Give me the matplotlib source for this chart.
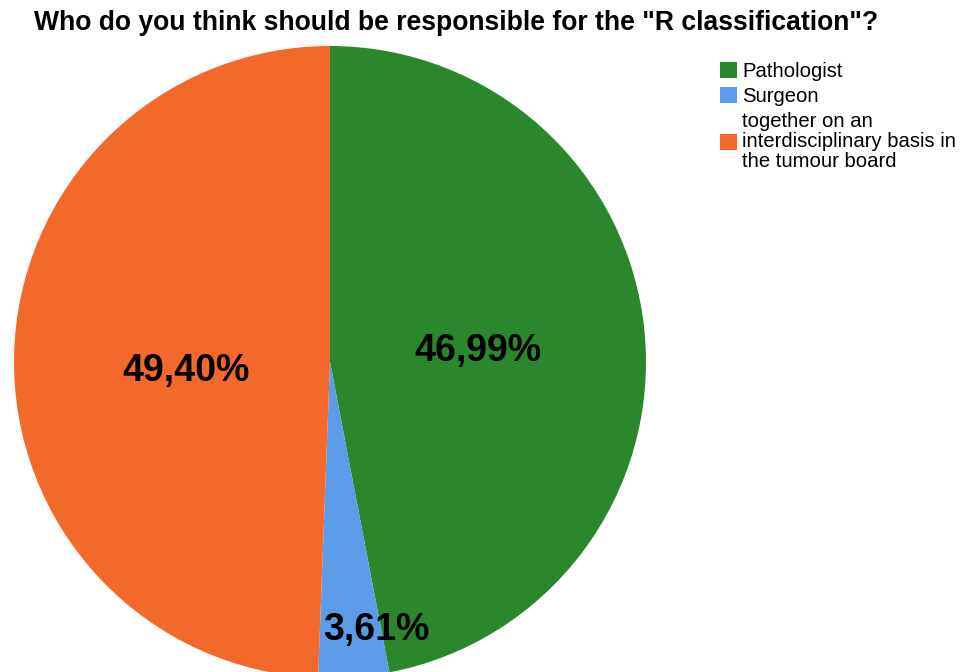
import matplotlib
matplotlib.use('Agg')
import matplotlib.pyplot as plt
import numpy as np

labels = ['Pathologist', 'Surgeon',
          'together on an\ninterdisciplinary basis in\nthe tumour board']
shares = [46.99, 3.61, 49.40]
colors = ['#2b872b', '#5b9be8', '#f3692b']

plt.rcParams['font.family'] = ['Liberation Sans', 'DejaVu Sans']

fig = plt.figure(figsize=(9.63, 6.72), dpi=100)
ax = fig.add_axes([0, 0, 1, 1])

# pie in pixel-like units, y going up
cx, cy, r = 330, 672 - 362, 316
wedges, texts, pcts = ax.pie(
    shares, colors=colors, startangle=90, counterclock=False,
    center=(cx, cy), radius=r,
    autopct=lambda p: ('%.2f%%' % p).replace('.', ','),
    wedgeprops=dict(linewidth=0),
    textprops=dict(fontsize=27, fontweight='bold', color='black'))

# label placement per slice: distance from centre and small angle nudge
label_dist = [0.47, 0.86, 0.457]
label_shift = [-1.2, 5.5, 4.7]
for w, t, d, s in zip(wedges, pcts, label_dist, label_shift):
    ang = np.deg2rad((w.theta1 + w.theta2) / 2 + s)
    t.set_position((cx + d * r * np.cos(ang), cy + d * r * np.sin(ang)))

ax.set_xlim(0, 963)
ax.set_ylim(0, 672)
ax.set_aspect('equal')
ax.axis('off')

fig.text(0.474, 1 - 23 / 672, 'Who do you think should be responsible for the "R classification"?',
         ha='center', va='center', fontsize=19.1, fontweight='bold')

leg = ax.legend(wedges, labels, loc='upper left', bbox_to_anchor=(720 / 963, 1 - 62 / 672),
                frameon=False, fontsize=14.6, handlelength=0.85, handleheight=0.85,
                handletextpad=0.25, labelspacing=0.3, borderpad=0, borderaxespad=0)
for t in leg.get_texts():
    t.set_linespacing(1.05)

fig.savefig('out.png', dpi=100)
